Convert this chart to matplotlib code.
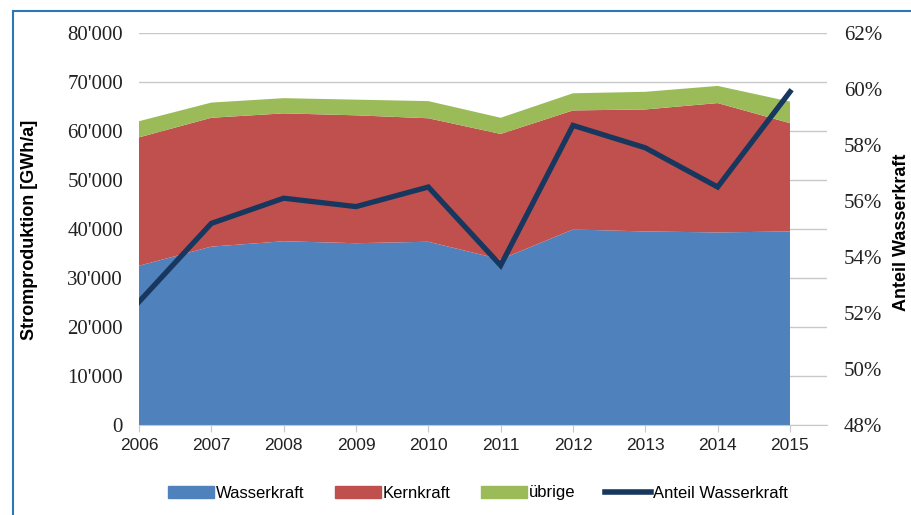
import numpy as np
import matplotlib.pyplot as plt
from matplotlib.patches import Patch, Rectangle
from matplotlib.lines import Line2D
from matplotlib.ticker import FuncFormatter

# Stromproduktion Schweiz [GWh/a]
jahre = [2006, 2007, 2008, 2009, 2010, 2011, 2012, 2013, 2014, 2015]
wasserkraft = [32500, 36400, 37500, 37100, 37400, 33800, 39900, 39500, 39300, 39500]
kernkraft = [26200, 26300, 26100, 26100, 25200, 25600, 24300, 24900, 26400, 22100]
uebrige = [3300, 3100, 3100, 3200, 3500, 3300, 3500, 3600, 3500, 4400]
anteil = [52.4, 55.2, 56.1, 55.8, 56.5, 53.7, 58.7, 57.9, 56.5, 59.9]

c_wasser = '#4F81BD'
c_kern = '#C0504D'
c_uebrig = '#9BBB59'
c_line = '#17375E'
serif = ['Liberation Serif', 'DejaVu Serif']
sans = ['Liberation Sans', 'DejaVu Sans']

fig = plt.figure(figsize=(9.11, 5.15), dpi=100)

# blauer Rahmen
fig.patches.append(Rectangle((13 / 911, -0.1), 1.2, 1 - 11 / 515 + 0.1,
                             transform=fig.transFigure, fill=False,
                             edgecolor='#2E75B6', lw=1.5))

ax = fig.add_axes([139 / 911, 1 - 425 / 515, (827 - 139) / 911, (425 - 33) / 515])
ax.stackplot(jahre, wasserkraft, kernkraft, uebrige,
             colors=[c_wasser, c_kern, c_uebrig], zorder=2)
ax.set_xlim(2006, 2015 + 37 / 72.3)
ax.set_ylim(0, 80000)
ax.set_yticks(np.arange(0, 80001, 10000))
ax.yaxis.set_major_formatter(FuncFormatter(lambda v, p: f"{int(v):,}".replace(',', "'")))
ax.set_xticks(jahre)
ax.grid(axis='y', color='#c8c8c8', lw=1, zorder=0)
for s in ['top', 'left', 'right']:
    ax.spines[s].set_visible(False)
ax.spines['bottom'].set_color('#c8c8c8')
ax.tick_params(axis='y', length=0, pad=11.5)
ax.tick_params(axis='x', length=5, color='#c8c8c8', pad=4)
for lab in ax.get_yticklabels():
    lab.set_family(serif)
    lab.set_fontsize(15)
    lab.set_color('#222222')
for lab in ax.get_xticklabels():
    lab.set_family(sans)
    lab.set_fontsize(12.5)
    lab.set_color('#222222')

ax2 = ax.twinx()
ax2.plot(jahre, anteil, color=c_line, lw=3.8, solid_joinstyle='miter', zorder=5)
ax2.set_ylim(48, 62)
ax2.set_yticks(np.arange(48, 62.1, 2))
ax2.yaxis.set_major_formatter(FuncFormatter(lambda v, p: f"{int(round(v))}%"))
for s in ['top', 'left', 'right', 'bottom']:
    ax2.spines[s].set_visible(False)
ax2.tick_params(axis='y', length=0, pad=12)
for lab in ax2.get_yticklabels():
    lab.set_family(serif)
    lab.set_fontsize(15)
    lab.set_color('#222222')

fig.text(30 / 911, 1 - 230 / 515, 'Stromproduktion [GWh/a]', rotation=90,
         ha='center', va='center', fontsize=13, fontweight='bold', family=sans)
fig.text(902 / 911, 1 - 232 / 515, 'Anteil Wasserkraft', rotation=90,
         ha='center', va='center', fontsize=13, fontweight='bold', family=sans)

handles = [Patch(color=c_wasser, label='Wasserkraft'),
           Patch(color=c_kern, label='Kernkraft'),
           Patch(color=c_uebrig, label='übrige'),
           Line2D([0], [0], color=c_line, lw=4, label='Anteil Wasserkraft')]
fig.legend(handles=handles, loc='center', bbox_to_anchor=(478 / 911, 1 - 493 / 515),
           ncol=4, frameon=False, handlelength=2.76, handleheight=0.75,
           handletextpad=0.12, columnspacing=1.8,
           prop={'family': sans, 'size': 12})

fig.savefig('out.png', dpi=100)
